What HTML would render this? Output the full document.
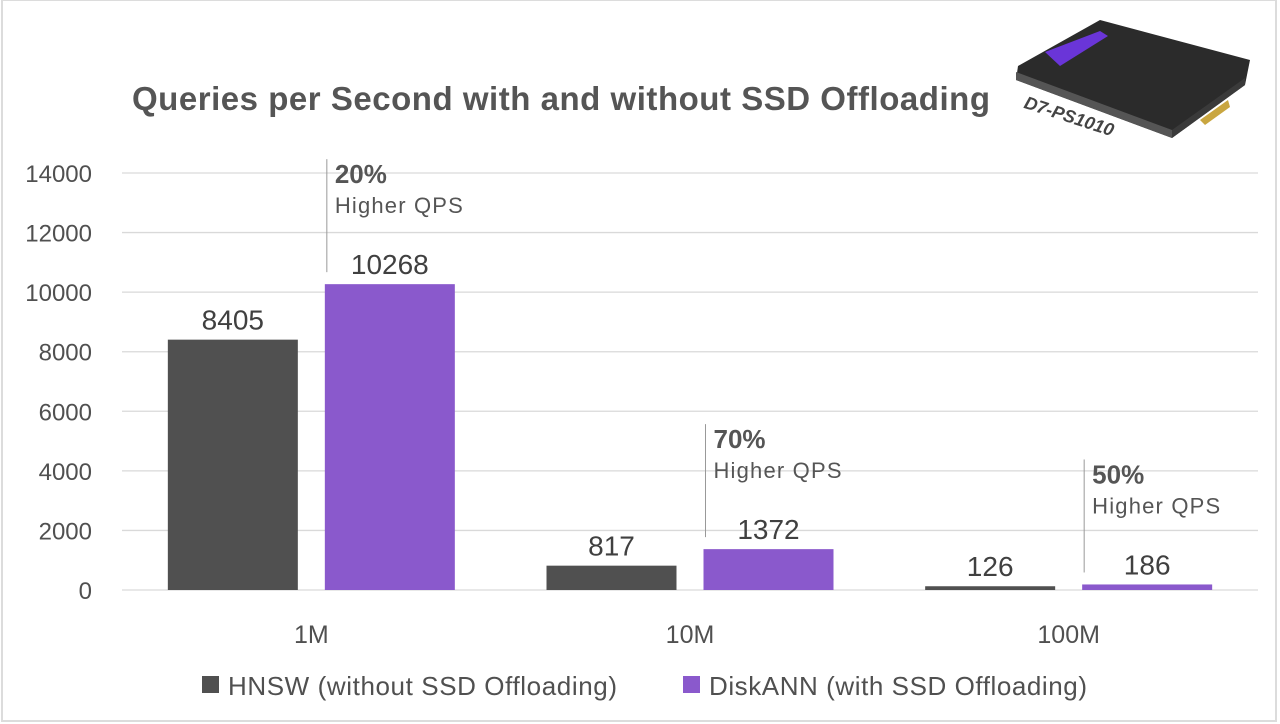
<!DOCTYPE html>
<html><head><meta charset="utf-8"><style>
html,body{margin:0;padding:0;background:#fff}
svg{display:block;font-family:"Liberation Sans",sans-serif}
</style></head><body>
<svg id="chart" width="1280" height="724" viewBox="0 0 1280 724">
<rect x="2" y="0" width="1274" height="721" fill="#fff" stroke="#dcdcdc" stroke-width="2"/>
<text x="132" y="110" font-size="33" font-weight="bold" fill="#555" textLength="858">Queries per Second with and without SSD Offloading</text>
<g>
<polygon points="1018,66 1100,20 1250,60 1245,85 1172,138 1016,80" fill="#2b2b2b"/>
<polygon points="1016,72 1172,130 1172,138 1016,80" fill="#555"/>
<polygon points="1172,130 1245,78 1245,85 1172,138" fill="#3a3a3a"/>
<polygon points="1045,52 1100,31 1108,36 1060,66" fill="#6a35d8"/>
<polygon points="1200,120 1228,100 1230,107 1205,125" fill="#c9a640"/>
<text x="1022" y="110" font-size="18" font-weight="bold" font-style="italic" fill="#444" transform="rotate(18 1030 112)">D7-PS1010</text>
</g>
<g id="grid"></g><g id="bars"></g><g id="labels"></g>
<g>
<rect x="202" y="676" width="17" height="17" fill="#505050"/>
<text x="228" y="695" font-size="26" fill="#505050" textLength="389">HNSW (without SSD Offloading)</text>
<rect x="683" y="676" width="17" height="17" fill="#8a59cc"/>
<text x="709" y="695" font-size="26" fill="#505050" textLength="378">DiskANN (with SSD Offloading)</text>
</g>
</svg>
<script>
const categories=["1M","10M","100M"];
const hnsw=[8405,817,126];
const diskann=[10268,1372,186];
const ticks=[0,2000,4000,6000,8000,10000,12000,14000];
const gains=["20%","70%","50%"];
const NS="http://www.w3.org/2000/svg";
const x0=122,x1=1258,yBase=590,yTop=173,yMax=14000;
const y=v=>yBase-(v/yMax)*(yBase-yTop);
const bandW=(x1-x0)/categories.length;
const cx=i=>x0+bandW*(i+0.5);
function mk(tag,attrs,parent,text){const e=document.createElementNS(NS,tag);for(const k in attrs)e.setAttribute(k,attrs[k]);if(text!==undefined)e.textContent=text;parent.appendChild(e);return e;}
const grid=document.getElementById('grid'),bars=document.getElementById('bars'),labels=document.getElementById('labels');
ticks.forEach(t=>{
 const l=mk('line',{x1:x0,x2:x1,y1:y(t),y2:y(t),stroke:'#d9d9d9','stroke-width':1.3},grid);
 
 
 const tx=mk('text',{x:92,y:y(t)+9,'font-size':24,fill:'#505050','text-anchor':'end'},grid,String(t));
 
 
});
const bw=130,gap=27;
categories.forEach((c,i)=>{
 const xa=cx(i)-gap/2-bw, xb=cx(i)+gap/2;
 const a=mk('rect',{x:xa,y:y(hnsw[i]),width:bw,height:yBase-y(hnsw[i]),fill:'#505050'},bars);
 
 
 const b=mk('rect',{x:xb,y:y(diskann[i]),width:bw,height:yBase-y(diskann[i]),fill:'#8a59cc'},bars);
 
 
 const la=mk('text',{x:xa+bw/2,y:y(hnsw[i])-10,'font-size':28,fill:'#404040','text-anchor':'middle'},labels,String(hnsw[i]));
 
 
 const lb=mk('text',{x:xb+bw/2,y:y(diskann[i])-10,'font-size':28,fill:'#404040','text-anchor':'middle'},labels,String(diskann[i]));
 
 
 const cl=mk('text',{x:cx(i),y:643,'font-size':25,fill:'#505050','text-anchor':'middle'},labels,c);
 
 
 const ax=xb+2;
 const lineTop=y(diskann[i])-125, lineBot=y(diskann[i])-12;
 const ln=mk('line',{x1:ax,x2:ax,y1:lineTop,y2:lineBot,stroke:'#999','stroke-width':1},labels);
 
 
 const g=mk('text',{x:ax+8,y:lineTop+24,'font-size':26,'font-weight':'bold',fill:'#555'},labels,gains[i]);
 
 
 const h=mk('text',{x:ax+8,y:lineTop+54,'font-size':22,fill:'#555',textLength:128},labels,'Higher QPS');
 
 
});
</script>
</body></html>
